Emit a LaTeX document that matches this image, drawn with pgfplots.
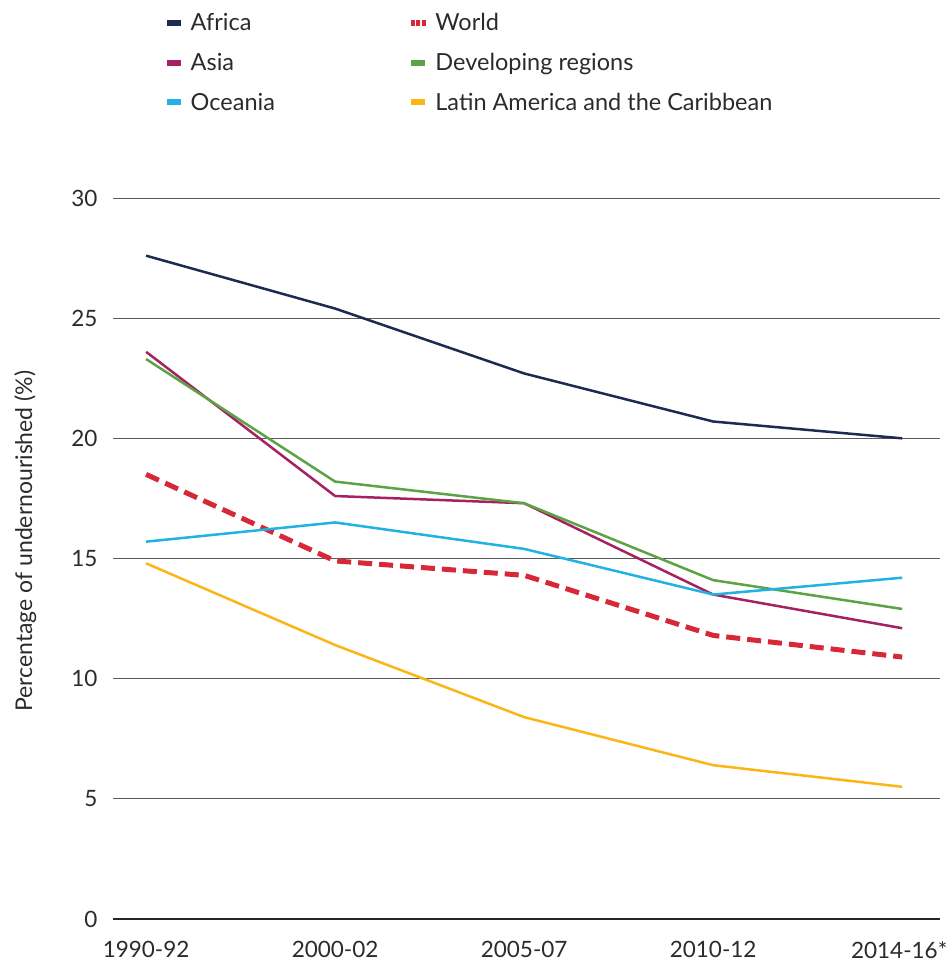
\documentclass[border=0pt]{standalone}
\usepackage{pgfplots}
\pgfplotsset{compat=1.18}
\usepackage{fontspec}
\setmainfont{Lato}
\definecolor{cAfrica}{HTML}{1C2B52}
\definecolor{cAsia}{HTML}{A6215F}
\definecolor{cOceania}{HTML}{22B1E3}
\definecolor{cWorld}{HTML}{D62837}
\definecolor{cDev}{HTML}{5BA344}
\definecolor{cLAC}{HTML}{FBB517}
\definecolor{cText}{HTML}{2B2B2B}
\begin{document}
\begin{tikzpicture}[x=1pt,y=1pt]
\path[use as bounding box] (0,0) rectangle (947,-965);
\begin{axis}[
  at={(113pt,-919pt)}, anchor=south west,
  scale only axis, width=827pt, height=721pt,
  xmin=-0.175, xmax=4.2, ymin=0, ymax=30,
  axis line style={draw=none},
  ytick={0,5,10,15,20,25,30},
  xtick={0,1,2,3,4},
  xticklabels={1990-92,2000-02,2005-07,2010-12,2014-16*\hspace*{6pt}},
  ymajorgrids, grid style={draw=black!65, line width=0.9pt},
  major tick length=0pt,
  tick style={draw=none},
  ticklabel style={font=\fontsize{22.5}{26}\selectfont, text=cText},
  /pgf/number format/assume math mode=true,
  yticklabel style={xshift=-12pt},
  xticklabel style={yshift=-19pt},
  ylabel={Percentage of undernourished (\%)},
  ylabel style={font=\fontsize{23}{27}\selectfont, text=cText, at={(axis description cs:-0.106,0.524)}, anchor=center},
  legend columns=2,
  legend cell align=left,
  legend style={draw=none, fill=none, at={(axis description cs:0.062,1.262)}, anchor=north west,
    font=\fontsize{23.5}{27}\selectfont, text=cText,
    /tikz/every even column/.append style={column sep=134pt},
    row sep=17pt},
  legend image code/.code={\fill[#1,draw=none] (0pt,-3pt) rectangle (14pt,3pt); \path (20pt,0pt);},
  every axis plot/.append style={line width=2.5pt, line join=round},
]
\draw[black!85, line width=1.3pt] (axis cs:-0.175,0) -- (axis cs:4.2,0);
\addplot[color=cAfrica] coordinates {(0,27.6) (1,25.4) (2,22.7) (3,20.7) (4,20.0)};
\addlegendentry{Africa}
\addplot[color=cWorld, line width=5pt, dash pattern=on 14pt off 7pt,
  legend image code/.code={\fill[cWorld,draw=none] (0pt,-3pt) rectangle (4pt,3pt); \fill[cWorld,draw=none] (5.3pt,-3pt) rectangle (9.3pt,3pt); \fill[cWorld,draw=none] (10.6pt,-3pt) rectangle (14.6pt,3pt); \path (20pt,0pt);}]
  coordinates {(0,18.5) (1,14.9) (2,14.3) (3,11.8) (4,10.9)};
\addlegendentry{World}
\addplot[color=cAsia] coordinates {(0,23.6) (1,17.6) (2,17.3) (3,13.5) (4,12.1)};
\addlegendentry{Asia}
\addplot[color=cDev] coordinates {(0,23.3) (1,18.2) (2,17.3) (3,14.1) (4,12.9)};
\addlegendentry{Developing regions}
\addplot[color=cOceania] coordinates {(0,15.7) (1,16.5) (2,15.4) (3,13.5) (4,14.2)};
\addlegendentry{Oceania}
\addplot[color=cLAC] coordinates {(0,14.8) (1,11.4) (2,8.4) (3,6.4) (4,5.5)};
\addlegendentry{Latin America and the Caribbean}
\end{axis}
\end{tikzpicture}
\end{document}
